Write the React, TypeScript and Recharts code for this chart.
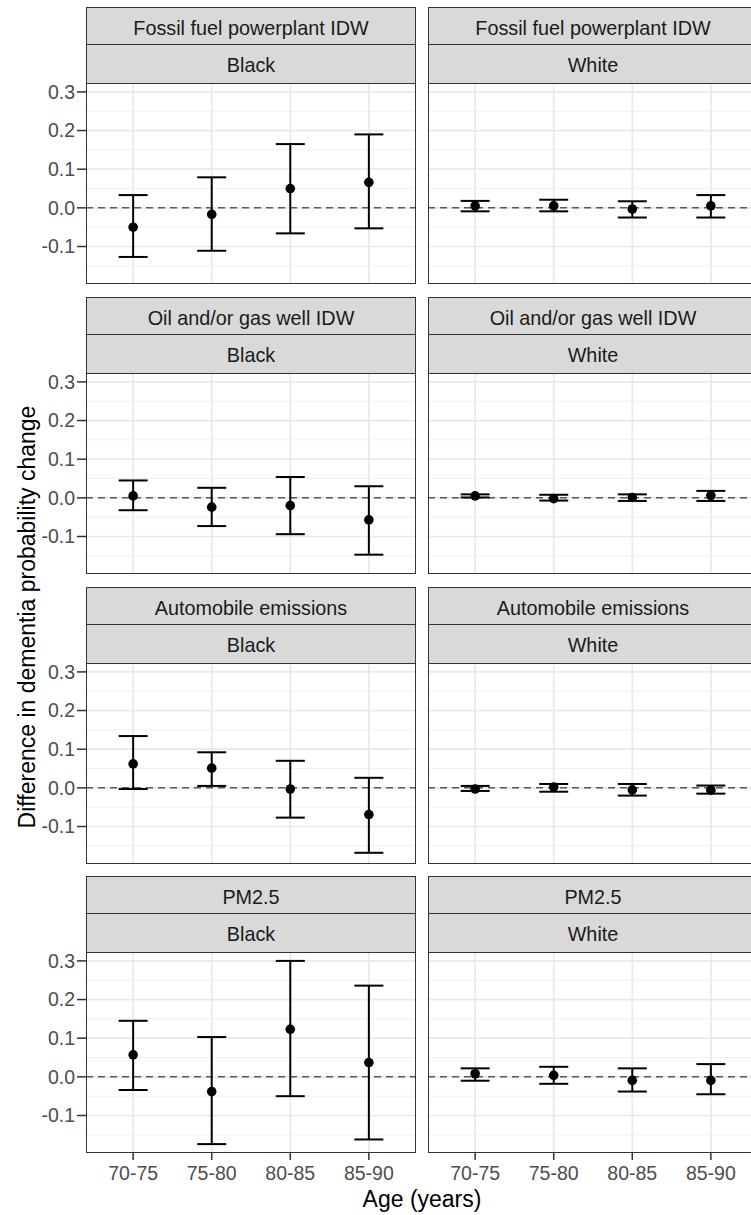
import React from 'react';
import { ScatterChart, Scatter, XAxis, YAxis, CartesianGrid, ErrorBar, ReferenceLine } from 'recharts';

// ---------- data ----------
const ageGroups = ['70-75', '75-80', '80-85', '85-90'];
const exposures = ['Fossil fuel powerplant IDW', 'Oil and/or gas well IDW', 'Automobile emissions', 'PM2.5'];
const races = ['Black', 'White'];
const yTicks = [-0.1, 0, 0.1, 0.2, 0.3];
const yMinorTicks = [-0.15, -0.05, 0.05, 0.15, 0.25];
const yAxisTitle = 'Difference in dementia probability change';
const xAxisTitle = 'Age (years)';

const fossilBlackEst = [-0.05, -0.017, 0.05, 0.066];
const fossilBlackLow = [-0.127, -0.111, -0.066, -0.053];
const fossilBlackHigh = [0.033, 0.079, 0.165, 0.19];

const fossilWhiteEst = [0.005, 0.005, -0.003, 0.005];
const fossilWhiteLow = [-0.009, -0.009, -0.025, -0.025];
const fossilWhiteHigh = [0.018, 0.021, 0.017, 0.033];

const oilBlackEst = [0.005, -0.024, -0.02, -0.057];
const oilBlackLow = [-0.032, -0.073, -0.094, -0.147];
const oilBlackHigh = [0.045, 0.026, 0.054, 0.03];

const oilWhiteEst = [0.005, -0.002, 0.001, 0.006];
const oilWhiteLow = [0.001, -0.007, -0.008, -0.008];
const oilWhiteHigh = [0.009, 0.008, 0.009, 0.018];

const autoBlackEst = [0.062, 0.051, -0.003, -0.069];
const autoBlackLow = [-0.003, 0.005, -0.077, -0.168];
const autoBlackHigh = [0.134, 0.092, 0.07, 0.026];

const autoWhiteEst = [-0.003, 0.002, -0.005, -0.006];
const autoWhiteLow = [-0.008, -0.01, -0.02, -0.015];
const autoWhiteHigh = [0.005, 0.01, 0.01, 0.006];

const pmBlackEst = [0.057, -0.038, 0.123, 0.037];
const pmBlackLow = [-0.034, -0.174, -0.05, -0.162];
const pmBlackHigh = [0.145, 0.103, 0.3, 0.236];

const pmWhiteEst = [0.008, 0.004, -0.009, -0.009];
const pmWhiteLow = [-0.01, -0.018, -0.038, -0.045];
const pmWhiteHigh = [0.022, 0.026, 0.022, 0.033];

const panelSeries = [
  [
    { est: fossilBlackEst, low: fossilBlackLow, high: fossilBlackHigh },
    { est: fossilWhiteEst, low: fossilWhiteLow, high: fossilWhiteHigh },
  ],
  [
    { est: oilBlackEst, low: oilBlackLow, high: oilBlackHigh },
    { est: oilWhiteEst, low: oilWhiteLow, high: oilWhiteHigh },
  ],
  [
    { est: autoBlackEst, low: autoBlackLow, high: autoBlackHigh },
    { est: autoWhiteEst, low: autoWhiteLow, high: autoWhiteHigh },
  ],
  [
    { est: pmBlackEst, low: pmBlackLow, high: pmBlackHigh },
    { est: pmWhiteEst, low: pmWhiteLow, high: pmWhiteHigh },
  ],
];

// ---------- layout ----------
const FONT = '"Liberation Sans", Arial, Helvetica, sans-serif';
const ROW_TOPS = [7, 297, 587, 876];
const COL_LEFTS = [86, 428];
const PANEL_W = 330;
const STRIP1_H = 37;
const STRIP2_H = 39;
const PLOT_H = 201;
const Y_AXIS_W = 86;
const X_AXIS_H = 44;
const PAD_TOP = 14;
const Y_DOMAIN: [number, number] = [-0.197, 0.323];
const X_DOMAIN: [number, number] = [0.4, 4.6];
const BORDER = '1.5px solid #333333';

const Dot = (props: any) => {
  const { cx, cy } = props;
  if (cx == null || cy == null) return null;
  return <circle cx={cx} cy={cy} r={4.8} fill="#000000" />;
};

function Panel({ row, col }: { row: number; col: number }) {
  const s = panelSeries[row][col];
  const data = ageGroups.map((g, i) => ({
    x: i + 1,
    y: s.est[i],
    err: [s.est[i] - s.low[i], s.high[i] - s.est[i]],
  }));
  const isLeft = col === 0;
  const isBottom = row === exposures.length - 1;
  const panelLeft = COL_LEFTS[col];
  const top = ROW_TOPS[row];
  const plotTop = top + STRIP1_H + STRIP2_H;
  const chartLeft = isLeft ? panelLeft - Y_AXIS_W : panelLeft;
  const chartW = isLeft ? PANEL_W + Y_AXIS_W : PANEL_W;
  const chartH = PAD_TOP + PLOT_H + (isBottom ? X_AXIS_H : 0);
  const xTickVals = ageGroups.map((_, i) => i + 1);

  const stripStyle: React.CSSProperties = {
    position: 'absolute',
    left: panelLeft,
    width: PANEL_W,
    boxSizing: 'border-box',
    border: BORDER,
    background: '#D9D9D9',
    color: '#1A1A1A',
    fontFamily: FONT,
    fontSize: 19.8,
    display: 'flex',
    alignItems: 'center',
    justifyContent: 'center',
    whiteSpace: 'nowrap',
  };

  return (
    <>
      <div style={{ ...stripStyle, top: top, height: STRIP1_H + 1, paddingTop: 4 }}>{exposures[row]}</div>
      <div style={{ ...stripStyle, top: top + STRIP1_H, height: STRIP2_H + 1, paddingTop: 2 }}>{races[col]}</div>
      <div style={{ position: 'absolute', left: chartLeft, top: plotTop - PAD_TOP }}>
        <ScatterChart width={chartW} height={chartH} margin={{ top: PAD_TOP, right: 0, bottom: 0, left: 0 }}>
          <CartesianGrid horizontalValues={yMinorTicks} vertical={false} stroke="#F0F0F0" strokeWidth={1} />
          <CartesianGrid horizontalValues={yTicks} verticalValues={xTickVals} stroke="#E9E9E9" strokeWidth={1.7} />
          <XAxis
            type="number"
            dataKey="x"
            domain={X_DOMAIN}
            ticks={xTickVals}
            interval={0}
            allowDataOverflow
            hide={!isBottom}
            height={X_AXIS_H}
            axisLine={false}
            tickSize={7}
            tickMargin={6}
            tickLine={{ stroke: '#333333', strokeWidth: 1.5 }}
            tick={{ fill: '#4D4D4D', fontSize: 19.5, fontFamily: FONT }}
            tickFormatter={(v: number) => ageGroups[v - 1]}
          />
          <YAxis
            type="number"
            dataKey="y"
            domain={Y_DOMAIN}
            ticks={yTicks}
            interval={0}
            allowDataOverflow
            hide={!isLeft}
            width={Y_AXIS_W}
            axisLine={false}
            tickSize={9}
            tickMargin={2}
            tickLine={{ stroke: '#333333', strokeWidth: 1.5 }}
            tick={{ fill: '#4D4D4D', fontSize: 19.5, fontFamily: FONT }}
            tickFormatter={(v: number) => v.toFixed(1)}
          />
          <ReferenceLine y={0} stroke="#595959" strokeWidth={1.5} strokeDasharray="7 5" />
          <Scatter data={data} shape={Dot} isAnimationActive={false}>
            <ErrorBar dataKey="err" direction="y" width={14.5} stroke="#000000" strokeWidth={2} isAnimationActive={false} />
          </Scatter>
        </ScatterChart>
      </div>
      <div
        style={{
          position: 'absolute',
          left: panelLeft,
          top: plotTop,
          width: PANEL_W,
          height: PLOT_H,
          boxSizing: 'border-box',
          border: BORDER,
          pointerEvents: 'none',
        }}
      />
    </>
  );
}

export default function App() {
  return (
    <div
      style={{
        position: 'absolute',
        left: 0,
        top: 0,
        width: 751,
        height: 1215,
        overflow: 'hidden',
        background: '#FFFFFF',
        fontFamily: FONT,
      }}
    >
      {exposures.map((_, r) =>
        races.map((_, c) => <Panel key={`${r}-${c}`} row={r} col={c} />)
      )}
      <div
        style={{
          position: 'absolute',
          left: 27,
          top: 617,
          transform: 'translate(-50%, -50%) rotate(-90deg)',
          whiteSpace: 'nowrap',
          fontSize: 23,
          color: '#000000',
          fontFamily: FONT,
          lineHeight: '23px',
        }}
      >
        {yAxisTitle}
      </div>
      <div
        style={{
          position: 'absolute',
          left: 422,
          top: 1188,
          transform: 'translateX(-50%)',
          whiteSpace: 'nowrap',
          fontSize: 23,
          color: '#000000',
          fontFamily: FONT,
          lineHeight: '23px',
        }}
      >
        {xAxisTitle}
      </div>
    </div>
  );
}
